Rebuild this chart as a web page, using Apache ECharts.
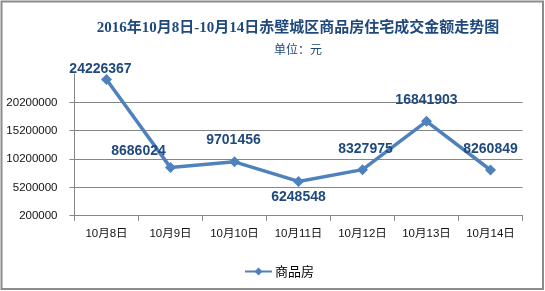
<!DOCTYPE html>
<html>
<head>
<meta charset="utf-8">
<script src="https://cdn.jsdelivr.net/npm/echarts@6/dist/echarts.min.js"></script>
<style>
html,body{margin:0;padding:0;background:#fff;}
#chart{width:545px;height:291px;}
</style>
</head>
<body>
<div id="chart"></div>
<script>
var titleText = '2016年10月8日-10月14日赤壁城区商品房住宅成交金额走势图';
var subtitleText = '单位：元';
var seriesName = '商品房';
var categories = ['10月8日','10月9日','10月10日','10月11日','10月12日','10月13日','10月14日'];
var values = [24226367, 8686024, 9701456, 6248548, 8327975, 16841903, 8260849];
var yMin = 200000, yMax = 25200000, yInterval = 5000000;
// label offsets (style only), relative to point centre
var labelOffsets = [[-6,-10],[-32,-16],[-1,-22],[0,16],[3,-20],[0,-21],[0,-21]];

var chart = echarts.init(document.getElementById('chart'), null, {renderer:'canvas'});
var dataItems = values.map(function(v, i){
  return { value: v, label: { offset: labelOffsets[i] } };
});
var axisGray = '#868686';
chart.setOption({
  animation: false,
  backgroundColor: '#ffffff',
  title: [{
    text: titleText,
    left: 293, top: 16, textAlign: 'center',
    textStyle: { fontFamily: "'Liberation Serif','Noto Sans CJK SC'", fontWeight: 'bold', fontSize: 15, color: '#1F497D' }
  },{
    text: subtitleText,
    left: 293, top: 38, textAlign: 'center',
    textStyle: { fontFamily: "'Noto Sans CJK SC'", fontWeight: 'normal', fontSize: 12, color: '#1F497D' }
  }],
  legend: {
    data: [seriesName],
    left: 239, top: 260,
    itemWidth: 27, itemHeight: 10, itemGap: 4,
    textStyle: { fontFamily: "'Noto Sans CJK SC'", fontSize: 13, color: '#000', padding: [0,0,0,-2] }
  },
  grid: { left: 74.5, right: 22.5, top: 74, bottom: 75.3 },
  xAxis: {
    type: 'category',
    data: categories,
    boundaryGap: true,
    axisLine: { lineStyle: { color: axisGray, width: 1 } },
    axisTick: { show: true, alignWithLabel: false, interval: 0, length: 5, lineStyle: { color: axisGray } },
    axisLabel: { interval: 0, margin: 12, fontFamily: "'Liberation Sans','Noto Sans CJK SC'", fontSize: 11.5, color: '#111' },
    splitLine: { show: false }
  },
  yAxis: {
    type: 'value',
    min: yMin, max: yMax, interval: yInterval,
    axisLine: { show: true, lineStyle: { color: axisGray, width: 1 } },
    axisTick: { show: true, length: 5, lineStyle: { color: axisGray } },
    axisLabel: { margin: 17, showMaxLabel: false, formatter: function(v){ return String(v); }, fontFamily: "'Liberation Sans'", fontSize: 11.5, color: '#111' },
    splitLine: { show: true, showMinLine: false, showMaxLine: false, lineStyle: { color: axisGray, width: 1 } }
  },
  series: [{
    name: seriesName,
    type: 'line',
    data: dataItems,
    symbol: 'diamond',
    symbolSize: 11,
    lineStyle: { color: '#4F81BD', width: 3.5 },
    itemStyle: { color: '#4F81BD' },
    label: {
      show: true,
      position: 'inside',
      fontFamily: "'Liberation Sans'",
      fontWeight: 'bold',
      fontSize: 14,
      color: '#1F497D'
    },
    z: 3
  }],
  graphic: [{
    type: 'rect',
    shape: { x: 1.5, y: 1.5, width: 541.5, height: 287.5 },
    style: { fill: 'none', stroke: '#8c8c8c', lineWidth: 2 },
    silent: true, z: 100
  }]
});
</script>
</body>
</html>
